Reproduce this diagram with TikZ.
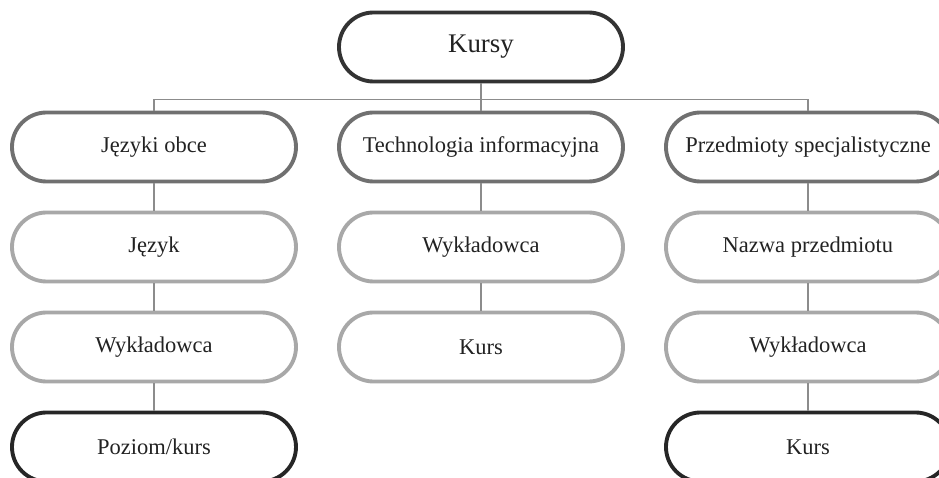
\documentclass[tikz,border=0pt]{standalone}
\usepackage{fontspec}
\setmainfont{Liberation Serif}
\usepackage{tikz}

\definecolor{ciemny}{HTML}{333333}
\definecolor{szary}{HTML}{707070}
\definecolor{jasny}{HTML}{A8A8A8}
\definecolor{czarny}{HTML}{262626}
\definecolor{linia}{HTML}{8C8C8C}
\definecolor{tekst}{HTML}{222222}

\begin{document}
\begin{tikzpicture}[level distance=2cm,
        level 1/.style={sibling distance=6.54cm},
        edge from parent/.style={draw=linia, line width=0.9pt},
        edge from parent path={(\tikzparentnode.south) -- ++(0,-0.32) -| (\tikzchildnode.north)},
        box/.style={rounded corners=0.69cm, minimum width=5.68cm, minimum height=1.38cm,
            line width=2.2pt, fill=white, text=tekst, inner sep=0pt,
            font=\fontsize{12.8}{15}\selectfont},
        glowny/.style={box, draw=ciemny, font=\fontsize{15.3}{18}\selectfont},
        grupa/.style={box, draw=szary},
        pole/.style={box, draw=jasny},
        koniec/.style={box, draw=czarny}]
    \path[use as bounding box] (-9.62,-8.62) rectangle (9.16,0.94);
    \clip (-9.62,-8.62) rectangle (9.16,0.94);
     \node[glowny] (kursy) {Kursy}
        child {node[grupa] (jezyki) {Języki obce}
            child {node[pole] (jezyk) {Język}
                child {node[pole] (wykl1) {Wykładowca}
                    child {node[koniec] (poziom) {Poziom/kurs}}
                }
            }
        }
        child {node[grupa] (techno) {Technologia informacyjna}
            child {node[pole] (wykl2) {Wykładowca}
                child {node[pole] (kurs2) {Kurs}}
            }
        }
        child {node[grupa] (przedm) {Przedmioty specjalistyczne}
            child {node[pole] (nazwa) {Nazwa przedmiotu}
                child {node[pole] (wykl3) {Wykładowca}
                    child {node[koniec] (kurs3) {Kurs}}
                }
            }
     };
\end{tikzpicture}
\end{document}
